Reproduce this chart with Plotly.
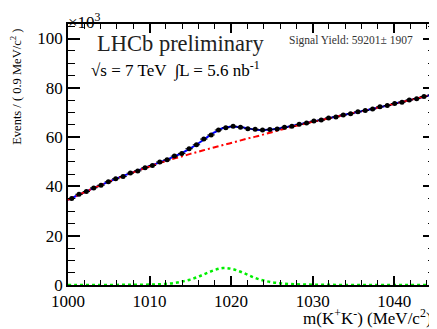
import numpy as np
import plotly.graph_objects as go

# ---- data (values in units of 10^3 events per 0.9 MeV/c^2) ----
bin_centers = [1000.45 + 0.9 * i for i in range(50)]
counts = [35.1, 36.8, 37.9, 39.4, 40.5, 41.9, 43.1, 44.0, 45.4, 46.3,
          47.6, 48.5, 49.9, 50.8, 52.3, 53.4, 55.3, 56.9, 59.2, 60.9,
          62.9, 63.8, 64.4, 64.0, 63.4, 63.2, 62.9, 63.1, 63.3, 64.0,
          64.4, 65.2, 65.7, 66.5, 66.9, 67.8, 68.2, 69.0, 69.5, 70.3,
          70.8, 71.4, 72.3, 72.8, 73.6, 74.2, 75.1, 75.6, 76.5, 77.1]

curve_x = list(range(1000, 1046))
bkg_curve = [34.6, 36.1, 37.6, 39.1, 40.5, 41.9, 43.2, 44.5, 45.7, 46.9,
             48.1, 49.2, 50.3, 51.3, 52.2, 53.2, 54.1, 55.0, 55.9, 56.8,
             57.6, 58.5, 59.4, 60.2, 61.1, 62.0, 62.9, 63.8, 64.6, 65.4,
             66.2, 66.9, 67.6, 68.4, 69.1, 69.8, 70.5, 71.2, 72.0, 72.7,
             73.5, 74.3, 75.1, 75.9, 76.7, 77.5]
sig_curve = [0.0, 0.0, 0.0, 0.01, 0.02, 0.03, 0.05, 0.07, 0.09, 0.12,
             0.16, 0.25, 0.45, 0.8, 1.4, 2.2, 3.4, 4.8, 6.1, 6.9,
             6.6, 5.6, 4.2, 2.8, 1.8, 1.1, 0.7, 0.45, 0.3, 0.2,
             0.12, 0.09, 0.06, 0.05, 0.04, 0.03, 0.03, 0.02, 0.02, 0.02,
             0.02, 0.01, 0.01, 0.01, 0.01, 0.01]

x_tickvals = [1000, 1010, 1020, 1030, 1040]
y_tickvals = [0, 20, 40, 60, 80, 100]

total_curve = [b + s for b, s in zip(bkg_curve, sig_curve)]
errs = list(np.sqrt(np.array(counts) * 1000.0) / 1000.0)

FONT = "Liberation Serif, Times New Roman, serif"

fig = go.Figure()
fig.add_trace(go.Scatter(x=curve_x, y=total_curve, mode="lines",
                         line=dict(color="#0000ff", width=2, shape="spline"),
                         showlegend=False))
fig.add_trace(go.Scatter(x=curve_x, y=bkg_curve, mode="lines",
                         line=dict(color="#ff0000", width=2, shape="spline",
                                   dash="6px,3px,2px,3px"),
                         showlegend=False))
fig.add_trace(go.Scatter(x=curve_x, y=sig_curve, mode="lines",
                         line=dict(color="#00ee00", width=2.5, shape="spline",
                                   dash="3px,3px"),
                         showlegend=False))
fig.add_trace(go.Scatter(x=bin_centers, y=counts, mode="markers",
                         marker=dict(color="black", size=5),
                         error_y=dict(type="data", array=errs, color="black",
                                      thickness=1, width=0),
                         error_x=dict(type="constant", value=0.45, color="black",
                                      thickness=1, width=0),
                         showlegend=False))

axis_common = dict(showline=True, linecolor="black", linewidth=1.5, mirror="ticks",
                   ticks="inside", tickcolor="black", tickwidth=1.5,
                   showgrid=False, zeroline=False, automargin=False,
                   tickfont=dict(family=FONT, size=17, color="black"))

fig.update_xaxes(range=[1000, 1045], tickvals=x_tickvals, ticklen=9,
                 minor=dict(ticks="inside", ticklen=5, dtick=2, tick0=1000,
                            tickcolor="black", tickwidth=1, showgrid=False),
                 **axis_common)
fig.update_yaxes(range=[0, 105.9], tickvals=y_tickvals, ticklen=12,
                 minor=dict(ticks="inside", ticklen=7, dtick=5, tick0=0,
                            tickcolor="black", tickwidth=1, showgrid=False),
                 **axis_common)

annotations = [
    dict(text="×10<sup>3</sup>", x=-0.005, y=1.061, xanchor="left", yanchor="top",
         font=dict(family=FONT, size=17, color="black")),
    dict(text="LHCb preliminary", x=0.074, y=0.927, xanchor="left", yanchor="middle",
         font=dict(family=FONT, size=22.5, color="#222222")),
    dict(text="√s = 7 TeV  ∫L = 5.6 nb<sup>-1</sup>", x=0.058, y=0.824,
         xanchor="left", yanchor="middle",
         font=dict(family=FONT, size=17, color="black")),
    dict(text="Signal Yield: 59201± 1907", x=0.597, y=0.938, xanchor="left",
         yanchor="middle", font=dict(family=FONT, size=11.5, color="#333333")),
    dict(text="Events / ( 0.9 MeV/c<sup>2</sup> )", x=-0.142, y=0.759, textangle=-90,
         xanchor="center", yanchor="middle",
         font=dict(family=FONT, size=12.5, color="black")),
    dict(text="m(K<sup>+</sup>K<sup>-</sup>) (MeV/c<sup>2</sup>)", x=0.997, y=-0.123,
         xanchor="right", yanchor="middle",
         font=dict(family=FONT, size=17, color="black")),
]
for a in annotations:
    a.update(xref="paper", yref="paper", showarrow=False)

# the page body adds an 8px offset, so the figure is sized/margined to compensate
fig.update_layout(width=429, height=321,
                  margin=dict(l=60, r=2, t=16, b=44),
                  paper_bgcolor="white", plot_bgcolor="white",
                  annotations=annotations, showlegend=False)

fig.write_html("out.html")
